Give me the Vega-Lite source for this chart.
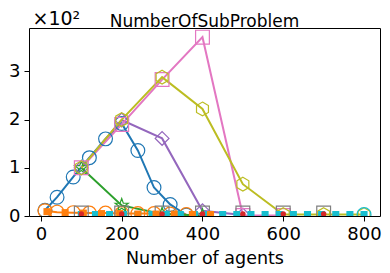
{
  "$schema": "https://vega.github.io/schema/vega-lite/v6.json",
  "width": 351,
  "height": 188,
  "autosize": {"type": "none"},
  "padding": {"left": 29, "top": 28, "right": 10, "bottom": 57},
  "config": {
    "font": "DejaVu Sans",
    "view": {"stroke": "#000000", "strokeWidth": 1},
    "axis": {"grid": false, "domain": false, "tickColor": "#000000", "tickSize": 5, "tickWidth": 1, "labelColor": "#000000", "labelFontSize": 18, "titleColor": "#000000", "titleFontWeight": "normal"},
    "title": {"fontSize": 17, "fontWeight": "normal", "color": "#000000"}
  },
  "title": {"text": "NumberOfSubProblem", "anchor": "middle", "frame": "group", "baseline": "alphabetic", "offset": 5, "dy": 40},
  "data": {"values": [
    {"s": "s1", "x": 10, "y": 12}, {"s": "s1", "x": 40, "y": 39}, {"s": "s1", "x": 80, "y": 81}, {"s": "s1", "x": 120, "y": 121}, {"s": "s1", "x": 160, "y": 160}, {"s": "s1", "x": 200, "y": 192}, {"s": "s1", "x": 240, "y": 136}, {"s": "s1", "x": 280, "y": 59}, {"s": "s1", "x": 320, "y": 24}, {"s": "s1", "x": 360, "y": 2},
    {"s": "s2", "x": 10, "y": 11}, {"s": "s2", "x": 40, "y": 8}, {"s": "s2", "x": 80, "y": 7}, {"s": "s2", "x": 120, "y": 6}, {"s": "s2", "x": 160, "y": 6}, {"s": "s2", "x": 200, "y": 5}, {"s": "s2", "x": 240, "y": 5}, {"s": "s2", "x": 280, "y": 5}, {"s": "s2", "x": 320, "y": 4}, {"s": "s2", "x": 360, "y": 3},
    {"s": "s3", "x": 100, "y": 100}, {"s": "s3", "x": 200, "y": 22}, {"s": "s3", "x": 300, "y": 4}, {"s": "s3", "x": 400, "y": 1},
    {"s": "s4", "x": 100, "y": 4}, {"s": "s4", "x": 200, "y": 4}, {"s": "s4", "x": 300, "y": 4}, {"s": "s4", "x": 400, "y": 4}, {"s": "s4", "x": 500, "y": 4}, {"s": "s4", "x": 600, "y": 4}, {"s": "s4", "x": 700, "y": 4},
    {"s": "s5", "x": 100, "y": 100}, {"s": "s5", "x": 200, "y": 199}, {"s": "s5", "x": 300, "y": 161}, {"s": "s5", "x": 400, "y": 11}, {"s": "s5", "x": 500, "y": 2},
    {"s": "s7", "x": 100, "y": 100}, {"s": "s7", "x": 200, "y": 190}, {"s": "s7", "x": 300, "y": 283}, {"s": "s7", "x": 400, "y": 371}, {"s": "s7", "x": 500, "y": 1}, {"s": "s7", "x": 600, "y": 1},
    {"s": "s8", "x": 100, "y": 6}, {"s": "s8", "x": 200, "y": 6}, {"s": "s8", "x": 300, "y": 6}, {"s": "s8", "x": 400, "y": 6}, {"s": "s8", "x": 500, "y": 6}, {"s": "s8", "x": 600, "y": 6}, {"s": "s8", "x": 700, "y": 6},
    {"s": "s9", "x": 100, "y": 100}, {"s": "s9", "x": 200, "y": 200}, {"s": "s9", "x": 300, "y": 288}, {"s": "s9", "x": 400, "y": 222}, {"s": "s9", "x": 500, "y": 66}, {"s": "s9", "x": 600, "y": 3}, {"s": "s9", "x": 700, "y": 3}, {"s": "s9", "x": 800, "y": 3},
    {"s": "s10", "x": 100, "y": 3}, {"s": "s10", "x": 135, "y": 3}, {"s": "s10", "x": 170, "y": 3}, {"s": "s10", "x": 205, "y": 3}, {"s": "s10", "x": 240, "y": 3}, {"s": "s10", "x": 275, "y": 3}, {"s": "s10", "x": 310, "y": 3}, {"s": "s10", "x": 345, "y": 3}, {"s": "s10", "x": 380, "y": 3}, {"s": "s10", "x": 415, "y": 3}, {"s": "s10", "x": 450, "y": 3}, {"s": "s10", "x": 485, "y": 3}, {"s": "s10", "x": 520, "y": 3}, {"s": "s10", "x": 555, "y": 3}, {"s": "s10", "x": 590, "y": 3}, {"s": "s10", "x": 625, "y": 3}, {"s": "s10", "x": 660, "y": 3}, {"s": "s10", "x": 695, "y": 3}, {"s": "s10", "x": 730, "y": 3}, {"s": "s10", "x": 765, "y": 3}, {"s": "s10", "x": 800, "y": 3},
    {"s": "s11", "x": 800, "y": 3},
    {"s": "s12", "x": 15, "y": 9}, {"s": "s12", "x": 60, "y": 7}, {"s": "s12", "x": 105, "y": 6}, {"s": "s12", "x": 150, "y": 5}, {"s": "s12", "x": 195, "y": 5}, {"s": "s12", "x": 240, "y": 4}, {"s": "s12", "x": 285, "y": 4}, {"s": "s12", "x": 330, "y": 4}, {"s": "s12", "x": 375, "y": 3}, {"s": "s12", "x": 420, "y": 3}
  ]},
  "encoding": {
    "x": {"field": "x", "type": "quantitative", "scale": {"domain": [-29.5, 839.5], "nice": false, "zero": false},
      "axis": {"values": [0, 200, 400, 600, 800], "title": "Number of agents", "titleFontSize": 17.5, "labelPadding": 4, "titlePadding": 6}},
    "y": {"field": "y", "type": "quantitative", "scale": {"domain": [0, 390], "nice": false},
      "axis": {"values": [0, 100, 200, 300], "labelExpr": "datum.value / 100", "labelPadding": 4,
        "title": "×10²", "titleAngle": 0, "titleAlign": "left", "titleBaseline": "alphabetic", "titleX": 3, "titleY": -4, "titleFontSize": 19}},
    "color": {"field": "s", "type": "nominal", "legend": null,
      "scale": {"domain": ["s1", "s2", "s3", "s4", "s5", "s7", "s8", "s9", "s10", "s11", "s12"],
        "range": ["#1f77b4", "#ff7f0e", "#2ca02c", "#d62728", "#9467bd", "#e377c2", "#7f7f7f", "#bcbd22", "#17becf", "#17becf", "#ff7f0e"]}}
  },
  "layer": [
    {"transform": [{"filter": {"field": "s", "oneOf": ["s1", "s2", "s3", "s5", "s7", "s9"]}}],
      "mark": {"type": "line", "strokeWidth": 2, "clip": true}},
    {"transform": [{"filter": {"field": "s", "oneOf": ["s1", "s2", "s3", "s5", "s7", "s8", "s9", "s11"]}}],
      "mark": {"type": "point", "filled": false, "strokeWidth": 1.2, "size": 190, "clip": true, "opacity": 1},
      "encoding": {"shape": {"field": "s", "type": "nominal", "legend": null,
        "scale": {"domain": ["s1", "s2", "s3", "s5", "s7", "s8", "s9", "s11"],
          "range": ["circle", "circle", "M0,-1L0.235,-0.324L0.951,-0.309L0.380,0.124L0.588,0.809L0,0.4L-0.588,0.809L-0.380,0.124L-0.951,-0.309L-0.235,-0.324Z", "diamond", "square", "square", "M0,-1L0.866,-0.5L0.866,0.5L0,1L-0.866,0.5L-0.866,-0.5Z", "circle"]}}}},
    {"transform": [{"filter": {"field": "s", "oneOf": ["s10", "s12"]}}],
      "mark": {"type": "point", "shape": "square", "filled": true, "size": 50, "clip": true, "opacity": 1}},
    {"transform": [{"filter": {"field": "s", "equal": "s4"}}],
      "mark": {"type": "point", "shape": "circle", "filled": true, "size": 30, "clip": true, "opacity": 1}}
  ]
}
